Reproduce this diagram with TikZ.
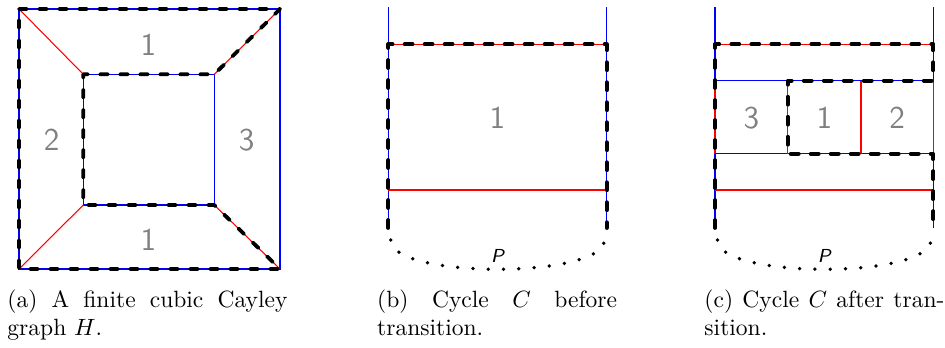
\documentclass[tikz,border=0pt]{standalone}
\begin{document}
\tikzset{
  bl/.style={draw=blue,line width=0.45pt},
  rd/.style={draw=red,line width=0.45pt},
  cyc/.style={draw=black,line width=1.6pt,dash pattern=on 3.4pt off 5.1pt,line cap=round,line join=round},
  pdots/.style={draw=black,line width=1.6pt,dash pattern=on 0pt off 6.5pt,line cap=round},
  lab/.style={text=black!50,font=\fontsize{13.5}{16}\selectfont\sffamily,inner sep=0pt},
  plab/.style={font=\footnotesize\sffamily\itshape,inner sep=0pt},
  capt/.style={anchor=north west,inner sep=0pt,align=justify,font=\normalsize}
}
\begin{tikzpicture}[x=0.425pt,y=-0.425pt]
\useasboundingbox (0,0) rectangle (945,347);
% ---------- (a) ----------
\coordinate (oTL) at (19,9);   \coordinate (oTR) at (280,9);
\coordinate (oBR) at (280,269);\coordinate (oBL) at (19,269);
\coordinate (iTL) at (83.3,74.3);  \coordinate (iTR) at (214.3,74.3);
\coordinate (iBR) at (214.3,205);  \coordinate (iBL) at (83.3,205);
\draw[bl] (oTL) -- (oTR) -- (oBR) -- (oBL) -- cycle;
\draw[bl] (iTL) -- (iTR) -- (iBR) -- (iBL) -- cycle;
\draw[rd] (oTL) -- (iTL);
\draw[rd] (oTR) -- (iTR);
\draw[rd] (oBR) -- (iBR);
\draw[rd] (oBL) -- (iBL);
\draw[cyc] (oTL) -- (oTR) -- (iTR) -- (iTL) -- (iBL) -- (iBR) -- (oBR) -- (oBL) -- cycle;
\node[lab] (a1) at (148.4,45) {1};
\node[lab] (a2) at (51.6,140) {2};
\node[lab] (a3) at (246.6,140) {3};
\node[lab] (a4) at (148.4,240) {1};
% ---------- (b) ----------
\coordinate (bL0) at (388.3,7.3);  \coordinate (bR0) at (606.7,7.3);
\coordinate (bL1) at (388.3,44.3); \coordinate (bR1) at (606.7,44.3);
\coordinate (bL2) at (388.3,190);  \coordinate (bR2) at (606.7,190);
\coordinate (bL3) at (388.3,228);  \coordinate (bR3) at (606.7,228);
\draw[bl] (bL0) -- (bL3);
\draw[bl] (bR0) -- (bR3);
\draw[rd] (bL1) -- (bR1);
\draw[rd] (bL2) -- (bR2);
\draw[cyc] (bL3) -- (bL1) -- (bR1) -- (bR3);
\node[lab] (b1) at (497.5,118) {1};
\coordinate (bp0) at (390.7,240); \coordinate (bp1) at (604.3,240);
\draw[pdots] (bp0) .. controls (390.7,279) and (604.3,279) .. (bp1);
\node[plab] (bP) at (497.5,255.5) {P};
% ---------- (c) ----------
\coordinate (cL0) at (715,7.3);   \coordinate (cR0) at (933.3,7.3);
\coordinate (cL1) at (715,44.3);  \coordinate (cR1) at (933.3,44.3);
\coordinate (cL2) at (715,80.7);  \coordinate (cR2) at (933.3,80.7);
\coordinate (cL3) at (715,153.7); \coordinate (cR3) at (933.3,153.7);
\coordinate (cL4) at (715,190);   \coordinate (cR4) at (933.3,190);
\coordinate (cL5) at (715,228);   \coordinate (cR5) at (933.3,228);
\coordinate (cA2) at (787.7,80.7);  \coordinate (cA3) at (787.7,153.7);
\coordinate (cB2) at (861,80.7);    \coordinate (cB3) at (861,153.7);
\draw[bl] (cL0) -- (cL2);  \draw[rd] (cL2) -- (cL3);  \draw[bl] (cL3) -- (cL5);
\draw[bl] (cR0) -- (cR2);  \draw[rd] (cR2) -- (cR3);  \draw[bl] (cR3) -- (cR5);
\draw[rd] (cL1) -- (cR1);
\draw[bl] (cL2) -- (cR2);
\draw[bl] (cL3) -- (cR3);
\draw[rd] (cL4) -- (cR4);
\draw[rd] (cA2) -- (cA3);
\draw[rd] (cB2) -- (cB3);
\draw[cyc] (cL5) -- (cL1) -- (cR1) -- (cR2) -- (cA2) -- (cA3) -- (cR3) -- (cR5);
\node[lab] (c3) at (751.3,118) {3};
\node[lab] (c1) at (824.3,118) {1};
\node[lab] (c2) at (897.2,118) {2};
\coordinate (cp0) at (717.4,240); \coordinate (cp1) at (930.9,240);
\draw[pdots] (cp0) .. controls (717.4,279) and (930.9,279) .. (cp1);
\node[plab] (cP) at (824.2,255.5) {P};
% ---------- captions ----------
\node[capt,text width=119pt] (capa) at (7,289.5) {(a) A finite cubic Cayley graph $H$.};
\node[capt,text width=102pt] (capb) at (376.7,289.5) {(b) Cycle $C$ before transition.};
\node[capt,text width=102pt] (capc) at (704,289.5) {(c) Cycle $C$ after tran\-sition.};
\end{tikzpicture}
\end{document}
